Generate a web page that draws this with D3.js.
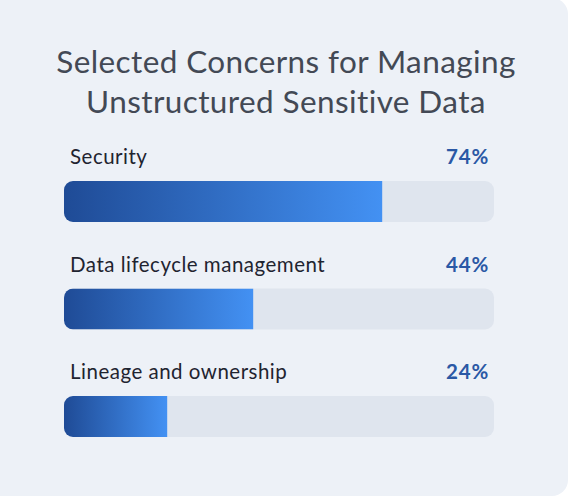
<!DOCTYPE html>
<html>
<head>
<meta charset="utf-8">
<script src="https://cdn.jsdelivr.net/npm/d3@7"></script>
<style>
  body { margin: 0; background: #ffffff; }
  svg { display: block; font-family: Lato, "Open Sans", sans-serif; }
</style>
</head>
<body>
<div id="chart"></div>
<script>
var titleLines = ["Selected Concerns for Managing", "Unstructured Sensitive Data"];
var categories = ["Security", "Data lifecycle management", "Lineage and ownership"];
var values = [74, 44, 24];

var width = 577, height = 497;

var svg = d3.select("#chart")
  .append("svg")
  .attr("width", width)
  .attr("height", height);

// card background
svg.append("rect")
  .attr("x", -20)
  .attr("y", -2)
  .attr("width", 588)
  .attr("height", 498)
  .attr("rx", 16)
  .style("fill", "#edf1f7");

var defs = svg.append("defs");
var grad = defs.append("linearGradient")
  .attr("id", "barGrad")
  .attr("x1", "0%").attr("x2", "100%")
  .attr("y1", "0%").attr("y2", "0%");
grad.append("stop").attr("offset", "0%").attr("stop-color", "#1f4b96");
grad.append("stop").attr("offset", "100%").attr("stop-color", "#4391f3");

svg.selectAll(".title")
  .data(titleLines)
  .enter().append("text")
  .attr("class", "title")
  .attr("x", 286)
  .attr("y", function (d, i) { return 73 + i * 40; })
  .style("text-anchor", "middle")
  .style("font-size", "31.5px")
  .style("letter-spacing", "0.4px")
  .style("fill", "#434955")
  .text(function (d) { return d; });

var x = d3.scaleLinear()
  .domain([0, 100])
  .range([64, 494]);

var y = d3.scaleBand()
  .domain(categories)
  .range([142, 142 + 3 * 107.5]);

var barH = 41;

var rows = svg.selectAll(".row")
  .data(categories)
  .enter().append("g")
  .attr("class", "row")
  .attr("transform", function (d) { return "translate(0," + y(d) + ")"; });

rows.append("clipPath")
  .attr("id", function (d, i) { return "clip" + i; })
  .append("rect")
  .attr("x", x(0))
  .attr("y", 39)
  .attr("width", x(100) - x(0))
  .attr("height", barH)
  .attr("rx", 9);

rows.append("rect")
  .attr("x", x(0))
  .attr("y", 39)
  .attr("width", x(100) - x(0))
  .attr("height", barH)
  .attr("rx", 9)
  .style("fill", "#dfe5ee");

rows.append("rect")
  .attr("clip-path", function (d, i) { return "url(#clip" + i + ")"; })
  .attr("x", x(0))
  .attr("y", 39)
  .attr("width", function (d, i) { return x(values[i]) - x(0); })
  .attr("height", barH)
  .style("fill", "url(#barGrad)");

rows.append("text")
  .attr("x", 70)
  .attr("y", 22)
  .style("font-size", "20.5px")
  .style("letter-spacing", "0.5px")
  .style("fill", "#1f2430")
  .text(function (d) { return d; });

rows.append("text")
  .attr("x", 489)
  .attr("y", 22)
  .style("text-anchor", "end")
  .style("font-size", "20.5px")
  .style("font-weight", "bold")
  .style("letter-spacing", "0.8px")
  .style("fill", "#2a58a5")
  .text(function (d, i) { return values[i] + "%"; });
</script>
</body>
</html>
